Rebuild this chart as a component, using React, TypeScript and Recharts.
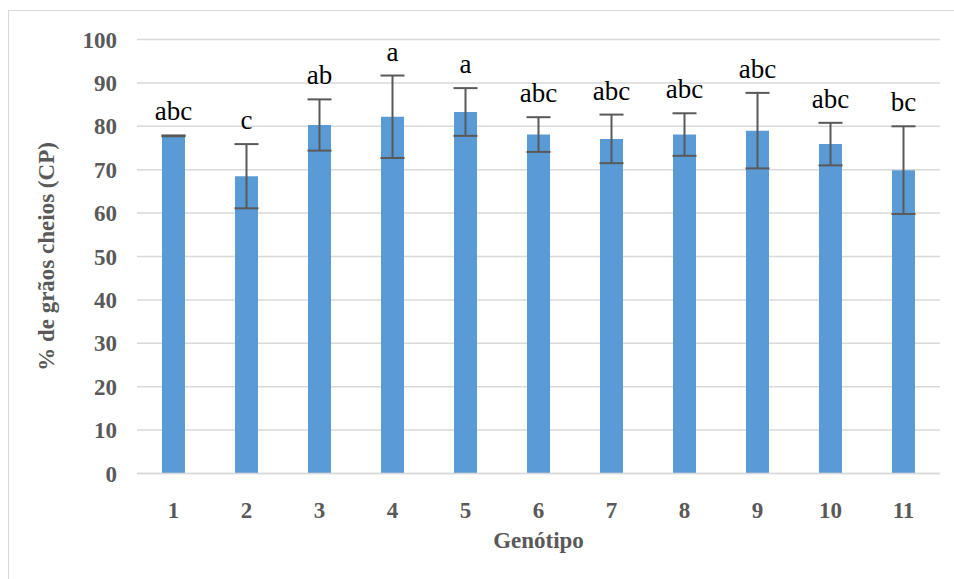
import React from 'react';
import { BarChart, Bar, XAxis, YAxis, CartesianGrid, ErrorBar, LabelList } from 'recharts';

// Filled grains (%) per genotype, with standard deviation and Tukey letters
const genotypes = ['1', '2', '3', '4', '5', '6', '7', '8', '9', '10', '11'];
const means = [77.8, 68.5, 80.3, 82.2, 83.3, 78.1, 77.1, 78.1, 79.0, 75.9, 69.9];
const deviations = [0.1, 7.4, 5.9, 9.5, 5.5, 4.0, 5.6, 4.9, 8.7, 4.9, 10.1];
const letters = ['abc', 'c', 'ab', 'a', 'a', 'abc', 'abc', 'abc', 'abc', 'abc', 'bc'];
const yTicks = [0, 10, 20, 30, 40, 50, 60, 70, 80, 90, 100];

const chartData = genotypes.map((g, i) => ({
  name: g,
  value: means[i],
  err: deviations[i],
  letter: letters[i],
}));

const FONT = 'Liberation Serif, Times New Roman, serif';
const AXIS_GREY = '#595959';

const XTick = (props: any) => {
  const { x, y, payload } = props;
  return (
    <text x={x} y={y + 36} textAnchor="middle" fontFamily={FONT} fontSize={23} fontWeight="bold" fill={AXIS_GREY}>
      {payload.value}
    </text>
  );
};

const YTick = (props: any) => {
  const { x, y, payload } = props;
  return (
    <text x={x} y={y + 8} textAnchor="end" fontFamily={FONT} fontSize={23} fontWeight="bold" fill={AXIS_GREY}>
      {payload.value}
    </text>
  );
};

// letter sits a little above the top of the error bar
const renderLetter = (props: any) => {
  const { x, y, width, height, index, value } = props;
  const pxPerUnit = height / means[index];
  const top = y - deviations[index] * pxPerUnit;
  return (
    <text
      key={`letter-${index}`}
      x={x + width / 2}
      y={top - 15}
      textAnchor="middle"
      fontFamily={FONT}
      fontSize={27}
      fill="#000"
    >
      {value}
    </text>
  );
};

const YTitle = (props: any) => {
  const { viewBox } = props;
  const cy = viewBox.y + viewBox.height / 2;
  return (
    <text
      x={54}
      y={cy}
      transform={`rotate(-90, 54, ${cy})`}
      textAnchor="middle"
      fontFamily={FONT}
      fontSize={23}
      fontWeight="bold"
      fill={AXIS_GREY}
    >
      % de grãos cheios (CP)
    </text>
  );
};

const XTitle = (props: any) => {
  const { viewBox } = props;
  return (
    <text
      x={viewBox.x + viewBox.width / 2}
      y={548}
      textAnchor="middle"
      fontFamily={FONT}
      fontSize={23}
      fontWeight="bold"
      fill={AXIS_GREY}
    >
      Genótipo
    </text>
  );
};

export default function App() {
  return (
    <div style={{ position: 'absolute', left: 0, top: 0, width: 954, height: 579, background: '#fff', overflow: 'hidden' }}>
      <div
        style={{
          position: 'absolute',
          left: 8,
          top: 10,
          width: 960,
          height: 600,
          border: '1.5px solid #d9d9d9',
        }}
      />
      <BarChart
        width={954}
        height={579}
        data={chartData}
        margin={{ top: 39.5, right: 14, bottom: 25.5, left: 0 }}
        style={{ position: 'absolute', left: 0, top: 0 }}
      >
        <CartesianGrid vertical={false} stroke="#d9d9d9" strokeWidth={1.5} />
        <XAxis
          dataKey="name"
          height={80}
          axisLine={{ stroke: '#d9d9d9', strokeWidth: 1.5 }}
          tickLine={false}
          tick={<XTick />}
          label={{ content: <XTitle /> }}
          interval={0}
        />
        <YAxis
          width={137}
          domain={[0, 100]}
          ticks={yTicks}
          axisLine={false}
          tickLine={false}
          tickMargin={14}
          tick={<YTick />}
          label={{ content: <YTitle /> }}
        />
        <Bar dataKey="value" fill="#5b9bd5" barSize={23} isAnimationActive={false}>
          <ErrorBar dataKey="err" width={12} stroke={AXIS_GREY} strokeWidth={2} direction="y" />
          <LabelList dataKey="letter" content={renderLetter} />
        </Bar>
      </BarChart>
    </div>
  );
}
